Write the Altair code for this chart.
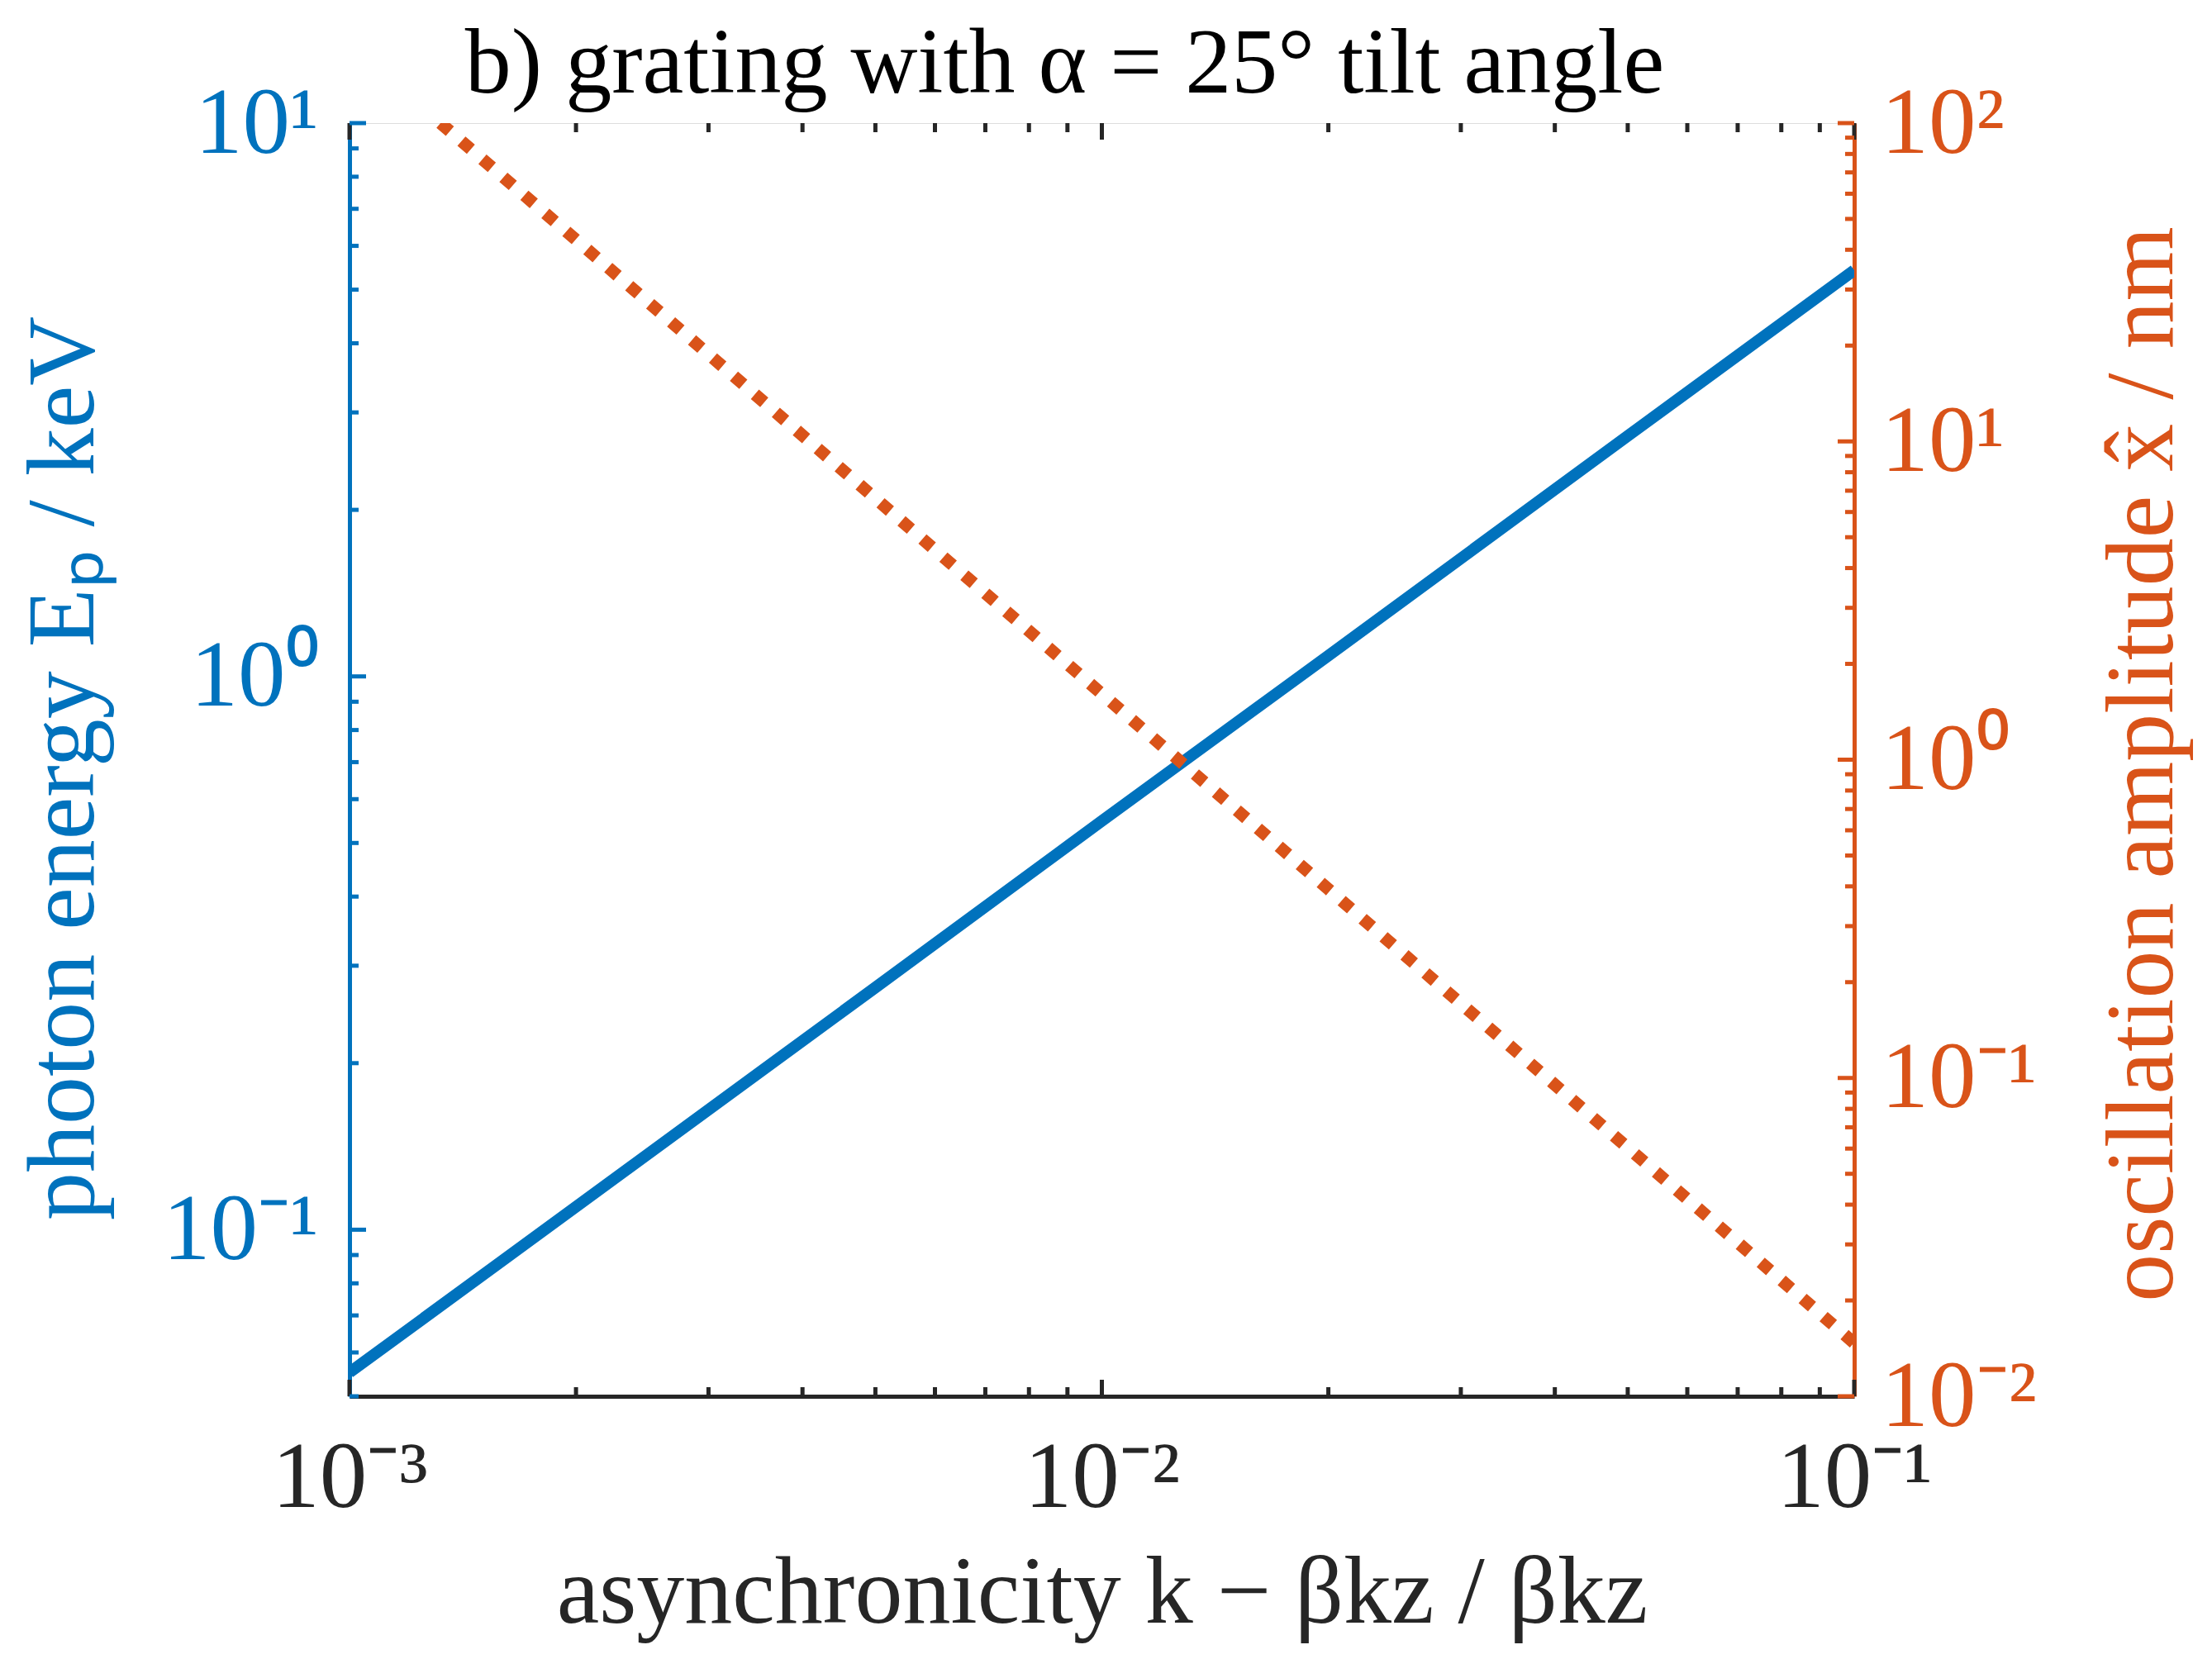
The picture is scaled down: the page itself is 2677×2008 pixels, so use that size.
import altair as alt
import pandas as pd

# ---------------- data ----------------
x_blue = [0.001, 0.002, 0.005, 0.01, 0.02, 0.05, 0.1]
e_blue = [0.0552, 0.110, 0.274, 0.548, 1.09, 2.72, 5.42]

x_orange = [0.001321, 0.002, 0.005, 0.01, 0.02, 0.05, 0.1]
a_orange = [100.0, 43.0, 6.62, 1.61, 0.392, 0.0604, 0.0147]

x_major = [0.001, 0.01, 0.1]
x_minor = [0.002, 0.003, 0.004, 0.005, 0.006, 0.007, 0.008, 0.009,
           0.02, 0.03, 0.04, 0.05, 0.06, 0.07, 0.08, 0.09]
x_exps = [-3, -2, -1]
x_labels = ["10⁻³", "10⁻²", "10⁻¹"]

yl_major = [0.1, 1.0, 10.0]
yl_minor = [0.05, 0.06, 0.07, 0.08, 0.09,
            0.2, 0.3, 0.4, 0.5, 0.6, 0.7, 0.8, 0.9,
            2, 3, 4, 5, 6, 7, 8, 9]
yl_exps = [-1, 0, 1]
yl_labels = ["10⁻¹", "10⁰", "10¹"]

yr_major = [0.01, 0.1, 1.0, 10.0, 100.0]
yr_minor = [0.02, 0.03, 0.04, 0.05, 0.06, 0.07, 0.08, 0.09,
            0.2, 0.3, 0.4, 0.5, 0.6, 0.7, 0.8, 0.9,
            2, 3, 4, 5, 6, 7, 8, 9,
            20, 30, 40, 50, 60, 70, 80, 90]
yr_exps = [-2, -1, 0, 1, 2]
yr_labels = ["10⁻²", "10⁻¹", "10⁰", "10¹", "10²"]

# ---------------- style ----------------
BLUE = "#0072BD"
ORANGE = "#D95319"
DARK = "#262626"
FONT = "Liberation Serif"
W, H = 1821, 1541
LAB = 115
TIT = 116
MAJ, MIN = 20, 11
LW = 5


def label_expr(exps, labels):
    e = "round(log(datum.value)/LN10)"
    expr = "''"
    for k, lab in zip(exps, labels):
        expr = f"({e} == {k}) ? '{lab}' : " + expr
    return expr


x_scale = alt.Scale(type="log", domain=[0.001, 0.1], nice=False)
yl_scale = alt.Scale(type="log", domain=[0.05, 10], nice=False)
yr_scale = alt.Scale(type="log", domain=[0.01, 100], nice=False)

x_axis = alt.Axis(values=x_major, ticks=False, grid=False, domainColor=DARK, domainWidth=LW,
                  labelExpr=label_expr(x_exps, x_labels), labelFont=FONT, labelFontSize=LAB,
                  labelColor=DARK, labelPadding=42, labelFlush=False, labelOverlap=False,
                  labelLimit=0,
                  title="asynchronicity k − βkz / βkz", titleFont=FONT, titleFontSize=TIT,
                  titleFontWeight="normal", titleColor=DARK, titleBaseline="alphabetic",
                  titleX=W / 2, titleY=273, titleAnchor="middle", titleLimit=0)

yl_axis = alt.Axis(orient="left", values=yl_major, ticks=False, grid=False, domainColor=BLUE,
                   domainWidth=LW, labelExpr=label_expr(yl_exps, yl_labels), labelFont=FONT,
                   labelFontSize=LAB, labelColor=BLUE, labelPadding=38, labelFlush=False,
                   labelOverlap=False, labelBaseline="middle", labelLimit=0,
                   title="photon energy Eₚ / keV", titleFont=FONT, titleFontSize=TIT,
                   titleFontWeight="normal", titleColor=BLUE, titleAngle=270,
                   titleBaseline="alphabetic", titleX=-311, titleY=H / 2 + 10,
                   titleAlign="center", titleLimit=0)

yr_axis = alt.Axis(orient="right", values=yr_major, ticks=False, grid=False, domainColor=ORANGE,
                   domainWidth=LW, labelExpr=label_expr(yr_exps, yr_labels), labelFont=FONT,
                   labelFontSize=LAB, labelColor=ORANGE, labelPadding=32, labelFlush=False,
                   labelOverlap=False, labelBaseline="middle", labelLimit=0,
                   title="oscillation amplitude x̂ / nm", titleFont=FONT, titleFontSize=TIT,
                   titleFontWeight="normal", titleColor=ORANGE, titleAngle=270,
                   titleBaseline="alphabetic", titleX=384, titleY=H / 2 + 5,
                   titleAlign="center", titleLimit=0)

X = alt.X("x:Q", scale=x_scale, axis=x_axis)


def xticks(vals, length):
    df = pd.DataFrame({"x": vals})
    bottom = alt.Chart(df).mark_rule(color=DARK, strokeWidth=LW).encode(
        x=X, y=alt.value(H), y2=alt.value(H - length))
    top = alt.Chart(df).mark_rule(color=DARK, strokeWidth=LW).encode(
        x=X, y=alt.value(0), y2=alt.value(length))
    return [bottom, top]


def yticks(vals, length, scale, axis, color, side):
    df = pd.DataFrame({"y": vals})
    if side == "left":
        xs = dict(x=alt.value(0), x2=alt.value(length))
    else:
        xs = dict(x=alt.value(W - length), x2=alt.value(W))
    return alt.Chart(df).mark_rule(color=color, strokeWidth=LW).encode(
        y=alt.Y("y:Q", scale=scale, axis=axis), **xs)


blue_df = pd.DataFrame({"x": x_blue, "y": e_blue})
orange_df = pd.DataFrame({"x": x_orange, "y": a_orange})

blue_line = alt.Chart(blue_df).mark_line(color=BLUE, strokeWidth=14, clip=True,
                                         strokeCap="butt").encode(
    x=X, y=alt.Y("y:Q", scale=yl_scale, axis=yl_axis))

orange_line = alt.Chart(orange_df).mark_line(color=ORANGE, strokeWidth=15, clip=True,
                                             strokeCap="butt", strokeDash=[15, 18.5]).encode(
    x=X, y=alt.Y("y:Q", scale=yr_scale, axis=yr_axis))

left = alt.layer(
    *xticks(x_major, MAJ), *xticks(x_minor, MIN),
    yticks(yl_major, MAJ, yl_scale, yl_axis, BLUE, "left"),
    yticks(yl_minor, MIN, yl_scale, yl_axis, BLUE, "left"),
    blue_line,
)
right = alt.layer(
    yticks(yr_major, MAJ, yr_scale, yr_axis, ORANGE, "right"),
    yticks(yr_minor, MIN, yr_scale, yr_axis, ORANGE, "right"),
    orange_line,
)

chart = alt.layer(left, right).resolve_scale(y="independent").properties(
    width=W, height=H,
    title=alt.TitleParams(text="b) grating with α = 25° tilt angle", font=FONT, fontSize=112,
                          fontWeight="normal", color="#000000", anchor="middle", frame="group",
                          baseline="alphabetic", offset=0, dy=132, dx=-45, limit=0),
    autosize=alt.AutoSizeParams(type="none"),
    padding={"left": 415, "top": 141, "right": 417, "bottom": 302},
).configure_view(stroke=DARK, strokeWidth=LW).configure(background="white")

chart.save("out.html", embed_options={"renderer": "svg", "actions": False})
